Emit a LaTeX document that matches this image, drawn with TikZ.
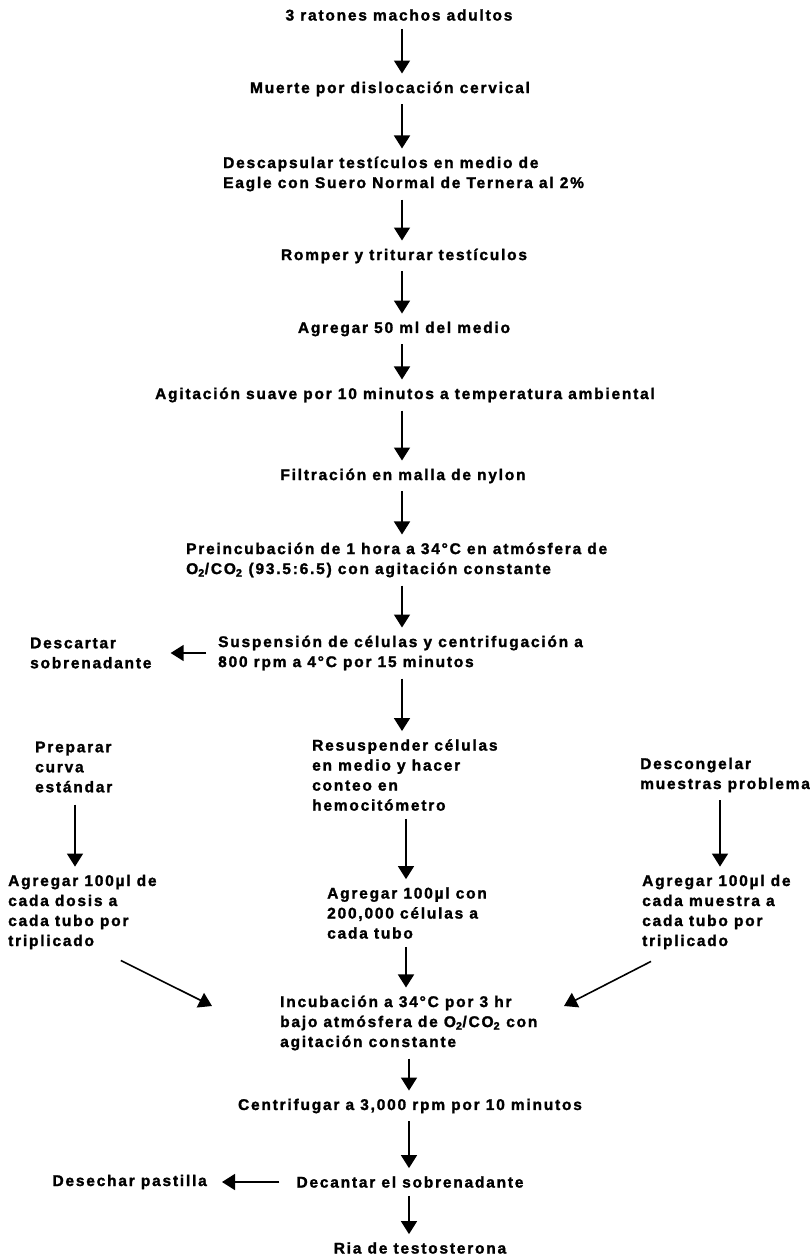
\documentclass[tikz,border=0pt]{standalone}
\usepackage{fontspec}
\setmainfont{Liberation Sans}[LetterSpace=11.5, BoldFeatures={FakeBold=1.6}]
\usetikzlibrary{arrows.meta}

\begin{document}
\begin{tikzpicture}[
    x=1pt, y=-1pt,
    txt/.style={inner sep=0pt, font=\bfseries\fontsize{15.5}{20}\selectfont},
    blk/.style={txt, align=left, anchor=west},
    arrow/.style={-{Triangle[width=16pt,length=13pt]}, line width=1.6pt, shorten <=8pt, shorten >=8pt}
]
    \useasboundingbox (0,0) rectangle (809,1258);
    \coordinate (spineA) at (402,0);
    \coordinate (spineB) at (406,0);
    \coordinate (spineC) at (409,0);

    % main column
    \node[txt] (rat) at (399,15) {3 ratones machos adultos};
    \node[txt] (muerte) at (390,89) {Muerte por dislocación cervical};
    \node[blk] (descap) at (223,174) {Descapsular testículos en medio de\\Eagle con Suero Normal de Ternera al 2\%};
    \node[txt] (romper) at (404,256) {Romper y triturar testículos};
    \node[txt] (medio) at (404,329) {Agregar 50 ml del medio};
    \node[txt] (agita) at (405,395) {Agitación suave por 10 minutos a temperatura ambiental};
    \node[txt] (filtra) at (403,476) {Filtración en malla de nylon};
    \node[blk] (preinc) at (186,560) {Preincubación de 1 hora a 34°C en atmósfera de\\O\textsubscript{2}/CO\textsubscript{2} (93.5:6.5) con agitación constante};
    \node[blk] (susp) at (218,653) {Suspensión de células y centrifugación a\\800 rpm a 4°C por 15 minutos};
    \node[blk] (descartar) at (30,653) {Descartar\\sobrenadante};

    % three branches
    \node[blk] (preparar) at (35,767) {Preparar\\curva\\estándar};
    \node[blk] (resusp) at (312,775) {Resuspender células\\en medio y hacer\\conteo en\\hemocitómetro};
    \node[blk] (descong) at (640,775) {Descongelar\\muestras problema};
    \node[blk] (dosis) at (8,912) {Agregar 100µl de\\cada dosis a\\cada tubo por\\triplicado};
    \node[blk] (celulas) at (327,913) {Agregar 100µl con\\200,000 células a\\cada tubo};
    \node[blk] (muestra) at (642,912) {Agregar 100µl de\\cada muestra a\\cada tubo por\\triplicado};

    % final steps
    \node[blk] (incub) at (280,1023) {Incubación a 34°C por 3 hr\\bajo atmósfera de O\textsubscript{2}/CO\textsubscript{2} con\\agitación constante};
    \node[txt] (centrif) at (410,1106) {Centrifugar a 3,000 rpm por 10 minutos};
    \node[txt] (decant) at (410,1182) {Decantar el sobrenadante};
    \node[txt, anchor=east] (desechar) at (207,1182) {Desechar pastilla};
    \node[txt] (ria) at (420,1248) {Ria de testosterona};

    \draw[arrow] (rat.south -| spineA) -- (muerte.north -| spineA);
    \draw[arrow] (muerte.south -| spineA) -- (descap.north -| spineA);
    \draw[arrow] (descap.south -| spineA) -- (romper.north -| spineA);
    \draw[arrow] (romper.south -| spineA) -- (medio.north -| spineA);
    \draw[arrow] (medio.south -| spineA) -- (agita.north -| spineA);
    \draw[arrow] (agita.south -| spineA) -- (filtra.north -| spineA);
    \draw[arrow] (filtra.south -| spineA) -- (preinc.north -| spineA);
    \draw[arrow] (preinc.south -| spineA) -- (susp.north -| spineA);
    \draw[arrow, shorten <=12pt, shorten >=19pt] (susp.west) -- (susp.west -| descartar.east);
    \draw[arrow] (susp.south -| spineA) -- (resusp.north -| spineA);
    \draw[arrow, shorten <=12pt] (preparar.south -| 75,0) -- (dosis.north -| 75,0);
    \draw[arrow] (resusp.south -| spineB) -- (celulas.north -| spineB);
    \draw[arrow] (descong.south -| 720,0) -- (muestra.north -| 720,0);
    \draw[arrow, shorten <=0pt, shorten >=0pt] ([xshift=-36pt,yshift=-11pt]dosis.south east) -- ([xshift=-68pt,yshift=17pt]incub.west);
    \draw[arrow, shorten <=0pt, shorten >=0pt] ([xshift=9pt,yshift=-12pt]muestra.south west) -- ([xshift=284pt,yshift=17pt]incub.west);
    \draw[arrow] (celulas.south -| spineB) -- (incub.north -| spineB);
    \draw[arrow] (incub.south -| spineC) -- (centrif.north -| spineC);
    \draw[arrow] (centrif.south -| spineC) -- (decant.north -| spineC);
    \draw[arrow, shorten <=17pt, shorten >=15pt] (decant.west) -- (desechar.east);
    \draw[arrow] (decant.south -| spineC) -- (ria.north -| spineC);
\end{tikzpicture}
\end{document}
